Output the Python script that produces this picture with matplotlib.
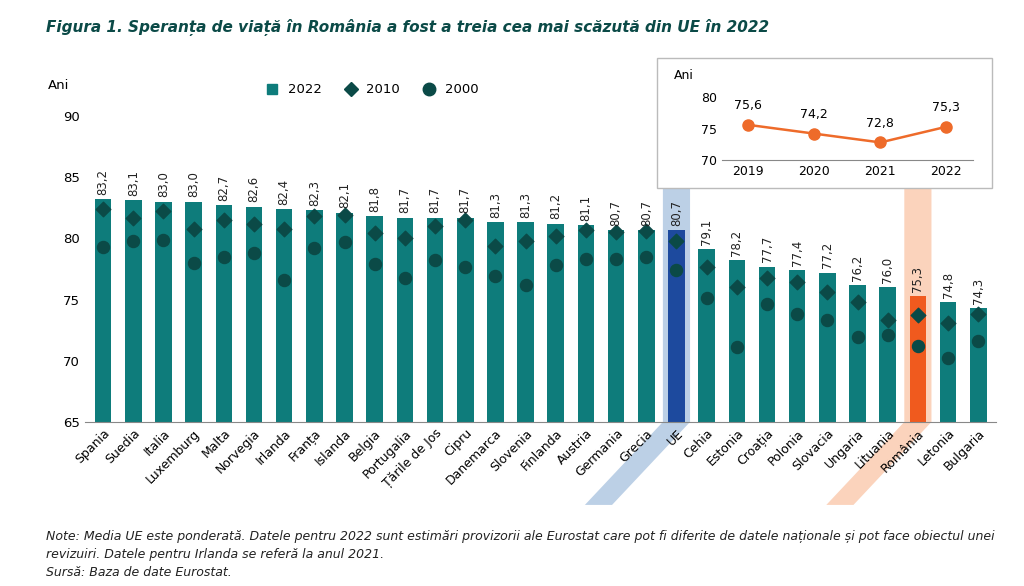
import matplotlib
matplotlib.use("Agg")
import matplotlib.pyplot as plt
from matplotlib.patches import Polygon, Rectangle
from matplotlib.lines import Line2D

countries = ["Spania","Suedia","Italia","Luxemburg","Malta","Norvegia","Irlanda","Franța","Islanda","Belgia",
             "Portugalia","Țările de Jos","Cipru","Danemarca","Slovenia","Finlanda","Austria","Germania","Grecia","UE",
             "Cehia","Estonia","Croația","Polonia","Slovacia","Ungaria","Lituania","România","Letonia","Bulgaria"]
v2022 = [83.2,83.1,83.0,83.0,82.7,82.6,82.4,82.3,82.1,81.8,81.7,81.7,81.7,81.3,81.3,81.2,81.1,80.7,80.7,80.7,
         79.1,78.2,77.7,77.4,77.2,76.2,76.0,75.3,74.8,74.3]
v2010 = [82.4,81.7,82.2,80.8,81.5,81.2,80.8,81.8,81.9,80.4,80.0,81.0,81.5,79.4,79.8,80.2,80.7,80.5,80.6,79.8,
         77.7,76.0,76.8,76.4,75.6,74.8,73.3,73.7,73.1,73.8]
v2000 = [79.3,79.8,79.9,78.0,78.5,78.8,76.6,79.2,79.7,77.9,76.8,78.2,77.7,76.9,76.2,77.8,78.3,78.3,78.5,77.4,
         75.1,71.1,74.6,73.8,73.3,71.9,72.1,71.2,70.2,71.6]
inset_years = ["2019","2020","2021","2022"]
inset_vals = [75.6,74.2,72.8,75.3]

TEAL = "#0e7c7b"; DARK = "#0b4a47"; BLUE = "#1d4a9e"; ORANGE = "#f05a1e"
fmt = lambda v: f"{v:.1f}".replace(".", ",")

fig = plt.figure(figsize=(10.24, 5.86), dpi=100)
ax = fig.add_axes([0.083, 0.28, 0.89, 0.522])
ax.set_zorder(2)
ax.patch.set_alpha(0)
x = list(range(len(countries)))
colors = [BLUE if c == "UE" else ORANGE if c == "România" else TEAL for c in countries]
ax.bar(x, [v - 65 for v in v2022], bottom=65, width=0.55, color=colors, zorder=2)
ax.scatter(x, v2010, marker="D", s=55, color=DARK, zorder=3)
ax.scatter(x, v2000, marker="o", s=75, color=DARK, zorder=3)
for xi, v in zip(x, v2022):
    ax.text(xi, v + 0.35, fmt(v), rotation=90, ha="center", va="bottom", fontsize=8.5, color="#222")
ax.set_ylim(65, 90)
ax.set_xlim(-0.6, len(x) - 0.4)
ax.set_yticks([65, 70, 75, 80, 85, 90])
ax.set_xticks(x)
ax.set_xticklabels(countries, rotation=45, ha="right", rotation_mode="anchor", fontsize=9)
for s in ["top", "right", "left"]:
    ax.spines[s].set_visible(False)
ax.spines["bottom"].set_color("#888")
ax.tick_params(axis="y", length=0, labelsize=9.5)
ax.tick_params(axis="x", length=0)

fig.canvas.draw()
inv = fig.transFigure.inverted()
def band(idx, color, ytop_val):
    x0, y0 = ax.transData.transform((idx - 0.45, ytop_val))
    x1, _ = ax.transData.transform((idx + 0.45, ytop_val))
    _, yb = ax.transData.transform((idx, 65))
    ye = yb - 83; dx = 78
    pts = [(x0, y0), (x1, y0), (x1, yb), (x1 - dx, ye), (x0 - dx, ye), (x0, yb)]
    pts = [inv.transform(p) for p in pts]
    fig.patches.append(Polygon(pts, closed=True, transform=fig.transFigure, facecolor=color, zorder=0, lw=0))
band(countries.index("UE"), "#bcd0e6", 85.5)
band(countries.index("România"), "#fbd3bc", 84.7)

fig.text(0.047, 0.848, "Ani", fontsize=9.5)
handles = [Line2D([], [], marker="s", ls="", color=TEAL, ms=7),
           Line2D([], [], marker="D", ls="", color=DARK, ms=7),
           Line2D([], [], marker="o", ls="", color=DARK, ms=9)]
fig.legend(handles, ["2022", "2010", "2000"], loc="center", bbox_to_anchor=(0.36, 0.847), ncol=3,
           frameon=False, fontsize=9.5, handletextpad=0.2, columnspacing=1.2)

fig.text(0.045, 0.945, "Figura 1. Speranța de viață în România a fost a treia cea mai scăzută din UE în 2022",
         fontsize=11, fontweight="bold", style="italic", color=DARK)
fig.text(0.045, 0.095, "Note: Media UE este ponderată. Datele pentru 2022 sunt estimări provizorii ale Eurostat care pot fi diferite de datele naționale și pot face obiectul unei\nrevizuiri. Datele pentru Irlanda se referă la anul 2021.\nSursă: Baza de date Eurostat.",
         fontsize=9, style="italic", va="top", color="#222", linespacing=1.5)

# inset
fig.patches.append(Rectangle((0.642, 0.679), 0.327, 0.222, transform=fig.transFigure,
                             facecolor="white", edgecolor="#bbbbbb", lw=1, zorder=5))
ia = fig.add_axes([0.705, 0.727, 0.245, 0.107])
ia.set_zorder(6)
ia.patch.set_alpha(0)
ia.plot(inset_years, inset_vals, color="#ee6b2a", lw=1.8, marker="o", ms=8)
for i, v in enumerate(inset_vals):
    ia.text(i, v + 2.0, fmt(v), ha="center", va="bottom", fontsize=9)
ia.set_ylim(70, 80)
ia.set_xlim(-0.4, 3.4)
ia.set_yticks([70, 75, 80])
for s in ["top", "right", "left"]:
    ia.spines[s].set_visible(False)
ia.spines["bottom"].set_color("#888")
ia.tick_params(length=0, labelsize=9)
fig.text(0.658, 0.865, "Ani", fontsize=9, zorder=7)

fig.savefig("out.png", dpi=100)
